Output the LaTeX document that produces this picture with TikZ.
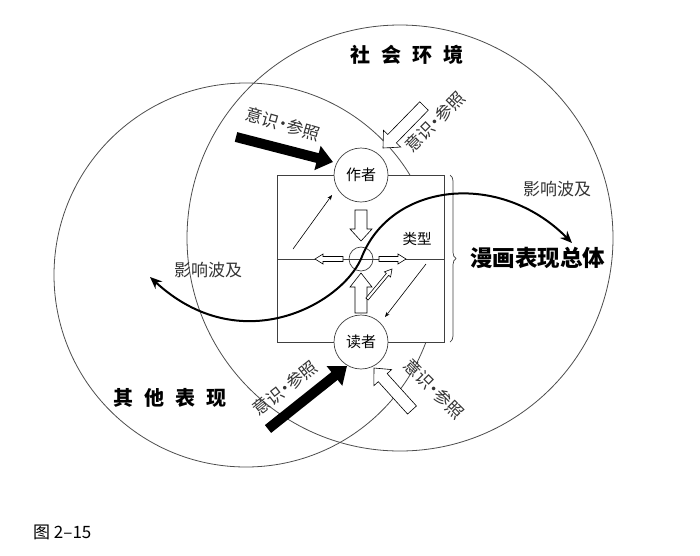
\documentclass[tikz,border=0pt]{standalone}
\usepackage{fontspec}
\setmainfont{Noto Sans CJK SC}
\usetikzlibrary{arrows.meta,calc,decorations.pathreplacing}

% hollow arrow: tail, tip, shaft half width, head half width, head length
\newcommand{\hollowarrow}[6][]{%
  \coordinate (neck) at ($(#3)!#6!(#2)$);
  \draw[line width=0.6pt,fill=white,#1] ($(#2)!#4!90:(#3)$) -- ($(neck)!#4!90:(#3)$)
    -- ($(neck)!#5!90:(#3)$) -- (#3) -- ($(neck)!#5!-90:(#3)$)
    -- ($(neck)!#4!-90:(#3)$) -- ($(#2)!#4!-90:(#3)$) -- cycle;}
\newcommand{\middot}{\makebox[0.5em][c]{·}}

\begin{document}
\begin{tikzpicture}[x=1pt,y=-1pt,
  every node/.style={inner sep=0pt},
  ring/.style={line width=0.8pt,draw=black!70},
  frame/.style={line width=0.7pt,draw=black!75},
  person/.style={circle,draw=black!75,line width=0.7pt,fill=white,minimum size=54pt,font=\fontsize{15}{15}\selectfont},
  areaname/.style={font=\fontsize{20}{20}\selectfont\bfseries},
  bigname/.style={font=\fontsize{22.5}{22.5}\selectfont\bfseries},
  note/.style={font=\fontsize{17}{17}\selectfont,text=black!80},
  small/.style={font=\fontsize{14.5}{14.5}\selectfont},
  blackarrow/.style={line width=10pt,-{Triangle[length=16pt,width=24pt]}},
  wave/.style={line width=2pt,{Stealth[length=12pt,width=10pt]}-{Stealth[length=12pt,width=10pt]}},
  pointer/.style={line width=0.6pt,-{Stealth[length=5pt,width=4pt]}}]
\useasboundingbox (0,0) rectangle (700,555);
% ---------- 两个范围圆 ----------
\draw[ring] (400,238) circle[radius=213];
\draw[ring] (246,275) circle[radius=192];
\node[areaname] (society) at (407,55) {社\hspace{11pt}会\hspace{11pt}环\hspace{11pt}境};
\node[areaname] (others) at (170,398) {其\hspace{11pt}他\hspace{11pt}表\hspace{11pt}现};
% ---------- 漫画表现总体 ----------
\draw[frame,fill=white] (277,175) rectangle (444,342);
\draw[frame] (277,259) -- (444,259);
\node[person] (author) at (361,175) {作者};
\node[person] (reader) at (361,342) {读者};
\node[circle,draw=black!75,line width=0.7pt,minimum size=24pt] (core) at (361,259) {};
\node[small] (genre) at (417,239) {类型};
\draw[frame,decorate,decoration={brace,amplitude=6pt}] (450,175) -- (450,342);
\node[bigname,anchor=west] (whole) at (470,258) {漫画表现总体};
% 框内箭头
\hollowarrow{361,210}{361,241}{6pt}{11pt}{12pt}
\hollowarrow{361,313}{361,273}{6pt}{11pt}{14pt}
\hollowarrow{343,259}{315,259}{2.5pt}{5pt}{8pt}
\hollowarrow{379,259}{406,259}{2.5pt}{5pt}{8pt}
\hollowarrow{367,299}{392,269}{1.5pt}{4pt}{7pt}
\coordinate (upA) at (293,249);
\coordinate (upB) at (332,195);
\coordinate (dnA) at (426,264);
\coordinate (dnB) at (385,317);
\draw[pointer] (upA) -- (upB);
\draw[pointer] (dnA) -- (dnB);
% ---------- 影响波及 ----------
\coordinate (waveL) at (150,277);
\coordinate (waveR) at (572,243);
\draw[wave] (waveL) .. controls (240,360) and (340,305) .. (core.center)
  .. controls (390,182) and (500,170) .. (waveR);
\node[note] (spreadR) at (557,189) {影响波及};
\node[note] (spreadL) at (208,270) {影响波及};
% ---------- 意识·参照 ----------
\coordinate (tlA) at (236,137);
\coordinate (tlB) at (333,162);
\coordinate (blA) at (268,429);
\coordinate (blB) at (347,366);
\draw[blackarrow] (tlA) -- (tlB);
\draw[blackarrow] (blA) -- (blB);
\hollowarrow{424,106}{383,148}{6pt}{12pt}{13pt}
\hollowarrow{412,410}{374,368}{6pt}{12pt}{13pt}
\node[note,rotate=-16] (refTL) at (283,124) {意识\middot 参照};
\node[note,rotate=45] (refTR) at (435,122) {意识\middot 参照};
\node[note,rotate=38] (refBL) at (285,388) {意识\middot 参照};
\node[note,rotate=-45] (refBR) at (434,389) {意识\middot 参照};
% ---------- 图号 ----------
\node[anchor=west,font=\fontsize{17}{17}\selectfont] (figno) at (33,532) {图 2–15};
\end{tikzpicture}
\end{document}
